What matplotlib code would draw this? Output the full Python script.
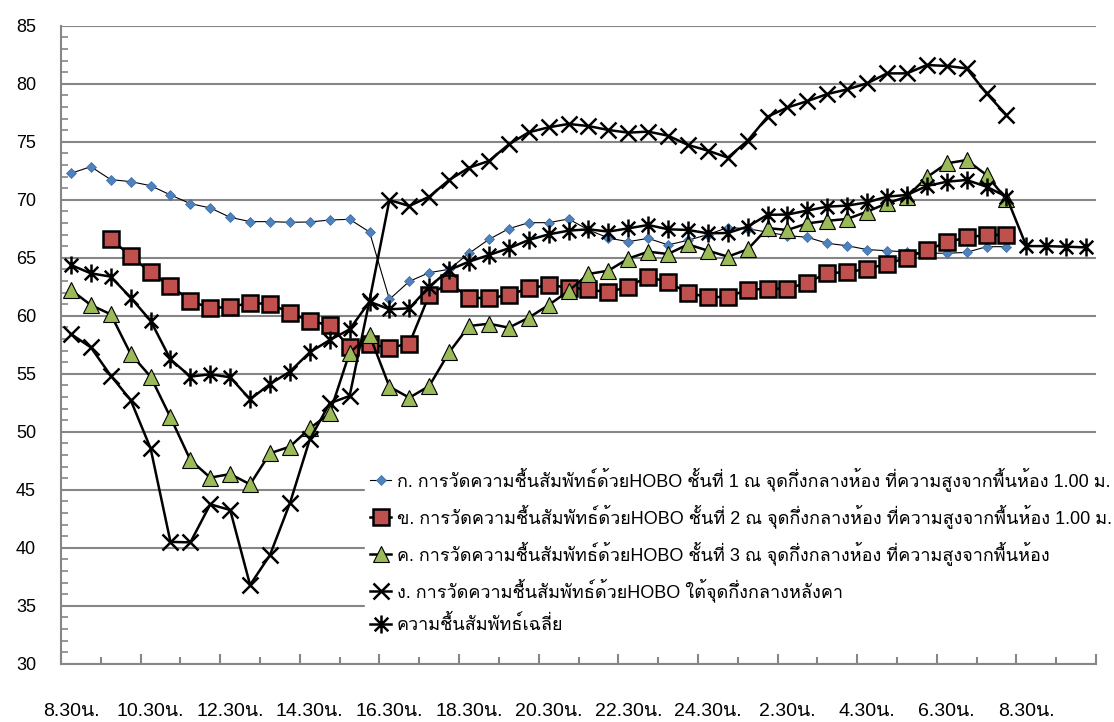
import numpy as np
import matplotlib
matplotlib.use("Agg")
import matplotlib.pyplot as plt
from matplotlib import font_manager
from matplotlib.ft2font import FT2Font
from matplotlib.path import Path

nan = np.nan

# ค่าความชื้นสัมพัทธ์ (%) ทุก 30 นาที เริ่ม 8.30 น.
hobo_1 = [72.27, 72.85, 71.73, 71.56, 71.21, 70.41, 69.66, 69.29, 68.48, 68.11,
          68.11, 68.05, 68.08, 68.25, 68.31, 67.22, 61.41, 62.96, 63.71, 64.0,
          65.38, 66.58, 67.5, 68.02, 68.02, 68.34, 67.4, 66.7, 66.38, 66.67,
          66.1, 66.5, 67.0, 67.6, 67.5, 67.2, 66.9, 66.76, 66.24, 66.03,
          65.7, 65.6, 65.5, 65.4, 65.38, 65.46, 65.95, 65.95]
hobo_2 = [nan, nan, 66.61, 65.15, 63.74, 62.59, 61.27, 60.64, 60.78, 61.07,
          61.04, 60.23, 59.55, 59.17, 57.3, 57.53, 57.24, 57.59, 61.79, 62.82,
          61.56, 61.5, 61.79, 62.36, 62.65, 62.42, 62.27, 62.01, 62.5, 63.37,
          62.88, 61.99, 61.58, 61.64, 62.22, 62.33, 62.33, 62.85, 63.68, 63.74,
          64.05, 64.46, 65.0, 65.66, 66.32, 66.75, 66.96, 66.96]
hobo_3 = [62.22, 60.92, 60.12, 56.7, 54.75, 51.24, 47.56, 46.04, 46.35, 45.46,
          48.14, 48.71, 50.29, 51.58, 56.81, 58.34, 53.88, 52.93, 53.94, 56.84,
          59.11, 59.31, 58.97, 59.83, 60.92, 62.13, 63.6, 63.88, 64.92, 65.52,
          65.32, 66.15, 65.61, 65.09, 65.72, 67.55, 67.39, 67.96, 68.18, 68.34,
          68.97, 69.69, 70.26, 71.93, 73.13, 73.42, 72.13, 70.03]
hobo_roof = [58.42, 57.27, 54.83, 52.73, 48.57, 40.5, 40.46, 43.74, 43.25, 36.79,
             39.37, 43.83, 49.34, 52.45, 53.08, 61.3, 69.97, 69.46, 70.26, 71.7,
             72.76, 73.34, 74.77, 75.81, 76.24, 76.53, 76.35, 76.01, 75.78, 75.87,
             75.52, 74.72, 74.23, 73.63, 75.09, 77.16, 77.95, 78.5, 79.11, 79.51,
             80.03, 80.89, 80.89, 81.61, 81.53, 81.32, 79.17, 77.3]
rh_mean = [64.37, 63.65, 63.37, 61.56, 59.57, 56.24, 54.75, 54.95, 54.69, 52.79,
           54.11, 55.18, 56.85, 57.9, 58.82, 61.21, 60.55, 60.64, 62.5, 63.94,
           64.66, 65.23, 65.81, 66.53, 67.01, 67.33, 67.45, 67.25, 67.53, 67.82,
           67.45, 67.39, 67.1, 67.13, 67.68, 68.7, 68.72, 69.07, 69.4, 69.49,
           69.77, 70.26, 70.41, 71.18, 71.55, 71.7, 71.12, 70.26, 66.0, 66.0,
           65.95, 65.89]

time_labels = ['8.30น.', '10.30น.', '12.30น.', '14.30น.', '16.30น.', '18.30น.', '20.30น.',
               '22.30น.', '24.30น.', '2.30น.', '4.30น.', '6.30น.', '8.30น.']
series_names = [
    'ก. การวัดความชื้นสัมพัทธ์ด้วยHOBO ชั้นที่ 1 ณ จุดกึ่งกลางห้อง ที่ความสูงจากพื้นห้อง 1.00 ม.',
    'ข. การวัดความชื้นสัมพัทธ์ด้วยHOBO ชั้นที่ 2 ณ จุดกึ่งกลางห้อง ที่ความสูงจากพื้นห้อง 1.00 ม.',
    'ค. การวัดความชื้นสัมพัทธ์ด้วยHOBO ชั้นที่ 3 ณ จุดกึ่งกลางห้อง ที่ความสูงจากพื้นห้อง',
    'ง. การวัดความชื้นสัมพัทธ์ด้วยHOBO ใต้จุดกึ่งกลางหลังคา',
    'ความชื้นสัมพัทธ์เฉลี่ย',
]


def find_thai_font():
    # หาฟอนต์ที่มีอักษรไทยในเครื่อง
    for f in font_manager.fontManager.ttflist:
        try:
            if FT2Font(f.fname).get_char_index(ord('ก')):
                return f.name
        except Exception:
            pass
    return 'DejaVu Sans'


thai = find_thai_font()
plt.rcParams['font.family'] = ['Liberation Sans', thai, 'DejaVu Sans']

grey = '#868686'

# เครื่องหมายดอกจันแบบ x + เส้นตั้ง
star = Path([(0, -1), (0, 1), (-0.75, -0.75), (0.75, 0.75), (-0.75, 0.75), (0.75, -0.75)],
            [Path.MOVETO, Path.LINETO, Path.MOVETO, Path.LINETO, Path.MOVETO, Path.LINETO])

fig = plt.figure(figsize=(11.14, 7.22), dpi=100)
ax = fig.add_axes([61 / 1114, 1 - 663.7 / 722, (1096 - 61) / 1114, (663.7 - 25.7) / 722])

n = len(rh_mean)
x = np.arange(n)

ax.plot(x[:len(hobo_1)], hobo_1, color='black', lw=0.8, marker='D', ms=5,
        mfc='#4f81bd', mec='#3a6aa5', mew=0.5, label=series_names[0])
ax.plot(x[:len(hobo_2)], hobo_2, color='black', lw=1.8, marker='s', ms=12,
        mfc='#c0504d', mec='black', mew=1.8, label=series_names[1])
ax.plot(x[:len(hobo_3)], hobo_3, color='black', lw=1.8, marker='^', ms=11,
        mfc='#9bbb59', mec='black', mew=0.8, label=series_names[2])
ax.plot(x[:len(hobo_roof)], hobo_roof, color='black', lw=1.8, marker='x', ms=11,
        mec='black', mew=1.8, label=series_names[3])
ax.plot(x, rh_mean, color='black', lw=1.8, marker=star, ms=13,
        mec='black', mew=1.8, label=series_names[4])

ax.set_xlim(-0.5, n - 0.5)
ax.set_ylim(30, 85)

# เส้นกริดแนวนอน
ax.set_yticks(np.arange(30, 86, 5))
ax.set_yticks(np.arange(30, 86, 1), minor=True)
ax.yaxis.grid(True, which='major', color=grey, lw=1.5)
ax.set_axisbelow(True)
ax.tick_params(axis='y', which='both', direction='in', colors=grey, width=1.2,
               labelcolor='black', labelsize=13, pad=18)
ax.tick_params(axis='y', which='major', length=0)
ax.tick_params(axis='y', which='minor', length=5)

# ขีดแบ่งช่วงเวลาบนแกน x
ax.set_xticks(np.arange(-0.5, n, 4))
ax.set_xticks(np.arange(1.5, n, 4), minor=True)
ax.tick_params(axis='x', which='both', direction='in', colors=grey, width=1.5,
               labelbottom=False)
ax.tick_params(axis='x', which='major', length=7)
ax.tick_params(axis='x', which='minor', length=5)

sec = ax.secondary_xaxis('bottom')
sec.set_xticks(np.arange(0, n, 4)[:len(time_labels)], labels=time_labels)
sec.tick_params(length=0, labelsize=14, pad=28)
sec.spines['bottom'].set_visible(False)

for side in ['top', 'right']:
    ax.spines[side].set_visible(False)
for side in ['left', 'bottom']:
    ax.spines[side].set_color(grey)
    ax.spines[side].set_linewidth(1.5)

leg = ax.legend(loc='upper left', bbox_to_anchor=(365 / 1114, 1 - 462 / 722),
                bbox_transform=fig.transFigure, fontsize=13, frameon=True,
                fancybox=False, edgecolor='white', facecolor='white', framealpha=1,
                handlelength=1.15, handletextpad=0.3, labelspacing=0.72,
                borderpad=0.3, borderaxespad=0)

fig.savefig('out.png', dpi=100)
